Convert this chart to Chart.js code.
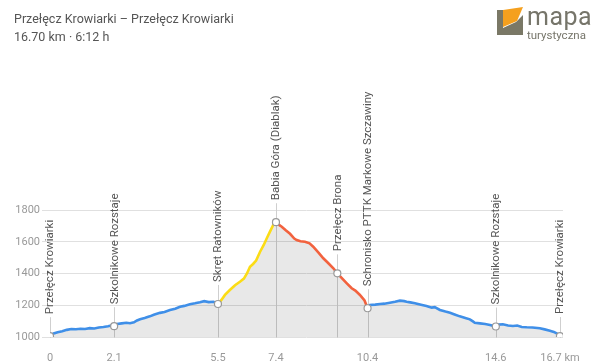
<!DOCTYPE html>
<html>
<head>
<meta charset="utf-8">
<script src="https://cdn.jsdelivr.net/npm/chart.js@4.4.1/dist/chart.umd.min.js"></script>
<style>
  html, body { margin: 0; padding: 0; background: #fff; }
  #wrap { position: relative; width: 600px; height: 362px; font-family: Roboto, sans-serif; }
  #title { position: absolute; left: 14px; top: 10px; color: #555; font-size: 12.5px; line-height: 18px; }
  #logo { position: absolute; left: 496px; top: 6px; }
  #logo .big { position: absolute; left: 31px; top: -4px; font-size: 25px; color: #76756a; letter-spacing: 0.5px; }
  #logo .small { position: absolute; left: 31px; top: 22px; font-size: 11.5px; color: #76756a; white-space: nowrap; }
  canvas { position: absolute; left: 0; top: 0; }
</style>
</head>
<body>
<div id="wrap">
  <canvas id="profile" width="600" height="362"></canvas>
  <div id="title">Przełęcz Krowiarki – Przełęcz Krowiarki<br>16.70 km · 6:12 h</div>
  <div id="logo">
    <svg width="28" height="30" viewBox="0 0 28 30">
      <polygon points="1,4 7,4 7,29 1,29" fill="#7a7866"/>
      <polygon points="7,29 7,22 20,16 27,9 27,29" fill="#7a7866"/>
      <polygon points="7,4 27,1 21,15 7,21" fill="#f5a01e"/>
    </svg>
    <span class="big">mapa</span>
    <span class="small">turystyczna</span>
  </div>
</div>
<script>
// elevation profile (km, m)
const profileKm = [
  0, 0.12, 0.25, 0.4, 0.55, 0.7, 0.85, 1.0, 1.15, 1.3, 1.45, 1.6, 1.75, 1.9, 2.0, 2.1,
  2.2, 2.35, 2.5, 2.62, 2.75, 2.85, 2.95, 3.1, 3.27, 3.4, 3.6, 3.75, 3.93, 4.1, 4.26, 4.4,
  4.58, 4.75, 4.91, 5.05, 5.2, 5.35, 5.45, 5.5,
  5.62, 5.73, 5.89, 6.06, 6.22, 6.35, 6.45, 6.55, 6.65, 6.75, 6.88, 7.0, 7.1, 7.2, 7.31, 7.4,
  7.5, 7.59, 7.72, 7.86, 8.0, 8.08, 8.2, 8.35, 8.5, 8.62, 8.8, 8.95, 9.1, 9.28, 9.41, 9.55,
  9.72, 9.88, 10.0, 10.15, 10.3, 10.4,
  10.48, 10.65, 10.81, 10.95, 11.13, 11.3, 11.46, 11.6, 11.68, 11.8, 11.95, 12.15, 12.33,
  12.5, 12.6, 12.77, 12.95, 13.1, 13.25, 13.42, 13.6, 13.75, 13.85, 13.91, 14.08, 14.25,
  14.41, 14.6, 14.7, 14.83, 15.0, 15.16, 15.3, 15.45, 15.61, 15.8, 16.04, 16.2, 16.37,
  16.5, 16.59, 16.7
];
const profileElev = [
  1005, 1022, 1030, 1036, 1045, 1050, 1049, 1052, 1050, 1056, 1054, 1060, 1063, 1068, 1072, 1068,
  1082, 1086, 1090, 1087, 1092, 1104, 1112, 1120, 1130, 1140, 1152, 1158, 1170, 1178, 1190, 1196,
  1206, 1212, 1219, 1226, 1220, 1222, 1214, 1208,
  1235, 1265, 1296, 1326, 1348, 1368, 1400, 1443, 1460, 1482, 1537, 1580, 1622, 1662, 1706, 1723,
  1706, 1695, 1672, 1650, 1620, 1611, 1603, 1600, 1590, 1569, 1530, 1496, 1468, 1433, 1401, 1372,
  1338, 1307, 1292, 1265, 1230, 1181,
  1202, 1204, 1208, 1210, 1216, 1222, 1229, 1226, 1222, 1218, 1212, 1203, 1195,
  1185, 1188, 1170, 1160, 1153, 1142, 1130, 1120, 1111, 1098, 1090, 1086, 1082,
  1076, 1066, 1078, 1080, 1072, 1069, 1072, 1063, 1061, 1060, 1055, 1048, 1040,
  1032, 1023, 1006
];

// coloured sections of the route
const segStart = [0, 5.5, 7.4, 10.4];
const segEnd = [5.5, 7.4, 10.4, 16.7];
const segColor = ['#3f8fe8', '#fbdc16', '#f2623e', '#3f8fe8'];

// waypoints
const wpNames = ['Przełęcz Krowiarki', 'Szkolnikowe Rozstaje', 'Skręt Ratowników', 'Babia Góra (Diablak)',
  'Przełęcz Brona', 'Schronisko PTTK Markowe Szczawiny', 'Szkolnikowe Rozstaje', 'Przełęcz Krowiarki'];
const wpKm = [0, 2.1, 5.5, 7.4, 9.41, 10.4, 14.6, 16.7];
const wpElev = [1005, 1068, 1208, 1723, 1401, 1181, 1066, 1006];

// axis ticks
const xTicks = [0, 2.1, 5.5, 7.4, 10.4, 14.6, 16.7];
const yTicks = [1000, 1200, 1400, 1600, 1800];

const allPoints = profileKm.map((km, i) => ({ x: km, y: profileElev[i] }));

const datasets = [{
    data: allPoints,
    borderWidth: 0,
    pointRadius: 0,
    backgroundColor: 'rgba(0,0,0,0.09)',
    fill: 'start',
    order: 10
}];

segStart.forEach((s, i) => {
    datasets.push({
        data: allPoints.filter(p => p.x >= s && p.x <= segEnd[i]),
        borderColor: segColor[i],
        borderWidth: 2.6,
        pointRadius: 0,
        fill: false,
        tension: 0,
        order: 5
    });
});

datasets.push({
    data: wpKm.map((km, i) => ({ x: km, y: wpElev[i] })),
    showLine: false,
    pointRadius: 3.5,
    pointBackgroundColor: '#fff',
    pointBorderColor: '#999',
    pointBorderWidth: 1.2,
    order: 0
});

// vertical guide lines and rotated waypoint names
const waypointPlugin = {
    id: 'waypoints',
    beforeDatasetsDraw(chart) {
        const ctx = chart.ctx;
        const xs = chart.scales.x, ys = chart.scales.y;
        ctx.save();
        ctx.strokeStyle = '#cfcfcf';
        ctx.lineWidth = 1;
        wpKm.forEach((km, i) => {
            const x = Math.round(xs.getPixelForValue(km)) + 0.5;
            const y = ys.getPixelForValue(wpElev[i]);
            ctx.beginPath();
            ctx.moveTo(x, y - 19);
            ctx.lineTo(x, chart.chartArea.bottom + 1);
            ctx.stroke();
        });
        ctx.restore();
    },
    afterDatasetsDraw(chart) {
        const ctx = chart.ctx;
        const xs = chart.scales.x, ys = chart.scales.y;
        ctx.save();
        ctx.fillStyle = '#555';
        ctx.font = '11.5px Roboto';
        ctx.textAlign = 'left';
        ctx.textBaseline = 'middle';
        wpNames.forEach((name, i) => {
            const x = xs.getPixelForValue(wpKm[i]);
            const y = ys.getPixelForValue(wpElev[i]) - 22;
            ctx.save();
            ctx.translate(x + 0.5, y);
            ctx.rotate(-Math.PI / 2);
            ctx.fillText(name, 0, 0);
            ctx.restore();
        });
        ctx.restore();
    }
};

new Chart(document.getElementById('profile'), {
    type: 'line',
    data: { datasets },
    options: {
        responsive: false,
        animation: false,
        layout: { padding: { top: 210, right: 37, left: 0, bottom: 0 } },
        plugins: { legend: { display: false }, tooltip: { enabled: false } },
        scales: {
            x: {
                type: 'linear',
                min: 0,
                max: 16.8,
                grid: { display: false },
                border: { display: false },
                afterBuildTicks: (scale) => { scale.ticks = xTicks.map(v => ({ value: v })); },
                afterFit: (scale) => { scale.height = 25; },
                ticks: {
                    autoSkip: false,
                    maxRotation: 0,
                    padding: 7,
                    color: '#999',
                    font: { family: 'Roboto', size: 11 },
                    callback: (v) => v === 16.7 ? '16.7 km' : String(v)
                }
            },
            y: {
                min: 1000,
                max: 1800,
                afterBuildTicks: (scale) => { scale.ticks = yTicks.map(v => ({ value: v })); },
                afterFit: (scale) => { scale.width = 50; },
                grid: { color: '#e0e0e0', tickLength: 8 },
                border: { display: false },
                ticks: {
                    padding: 2,
                    color: '#999',
                    font: { family: 'Roboto', size: 11 },
                    callback: (v) => String(v)
                }
            }
        }
    },
    plugins: [waypointPlugin]
});
</script>
</body>
</html>
